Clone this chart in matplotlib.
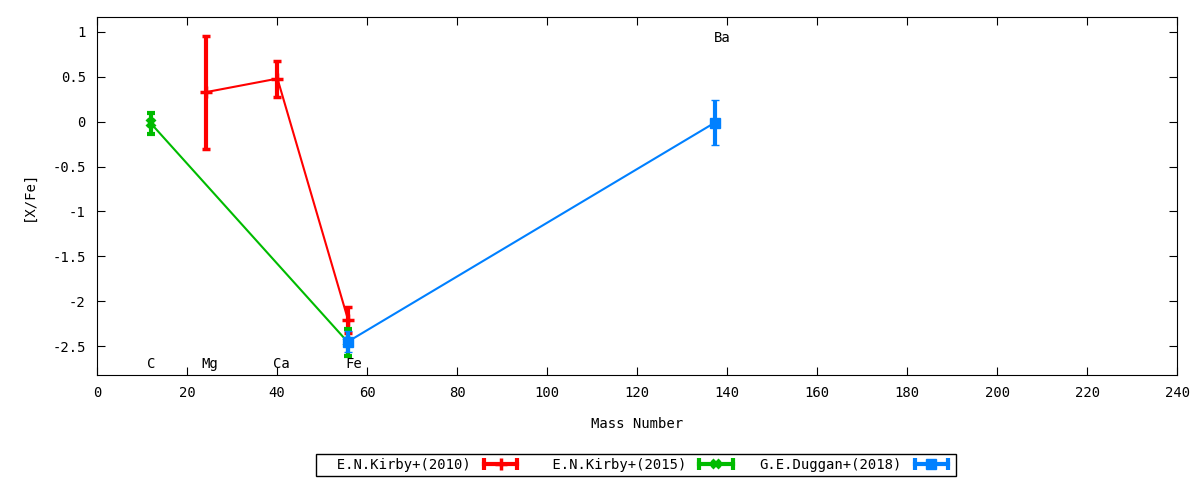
import numpy as np
import matplotlib.pyplot as plt
from matplotlib.ticker import FuncFormatter
from matplotlib.lines import Line2D
from matplotlib.legend_handler import HandlerLine2D

plt.rcParams['font.family'] = ['DejaVu Sans Mono']
plt.rcParams['font.size'] = 10

# E.N.Kirby+(2010)
k10_mass = [24.3, 40.1, 55.8]
k10_val = [0.33, 0.48, -2.21]
k10_err = [0.63, 0.20, 0.15]

# E.N.Kirby+(2015)
k15_mass = [12.0, 55.8]
k15_val = [-0.02, -2.46]
k15_err = [0.12, 0.15]

# G.E.Duggan+(2018)
d18_mass = [55.8, 137.3]
d18_val = [-2.45, -0.01]
d18_err = [0.12, 0.25]

elem_names = ["C", "Mg", "Ca", "Fe", "Ba"]
elem_x = [12.0, 25.0, 41.0, 57.0, 139.0]
elem_y = [-2.7, -2.7, -2.7, -2.7, 0.93]

fig = plt.figure(figsize=(12, 4.8), dpi=100)
ax = fig.add_axes([0.0808, 0.21875, 0.9002, 0.7459])

series = [
    (k10_mass, k10_val, k10_err, "#ff0000", "+", 9, 2.5, "  E.N.Kirby+(2010)"),
    (k15_mass, k15_val, k15_err, "#00bb00", "x", 6, 3, " E.N.Kirby+(2015)"),
    (d18_mass, d18_val, d18_err, "#0080ff", "s", 7, 1, "G.E.Duggan+(2018)"),
]

handles, labels, hmap = [], [], {}
for mass, val, err, c, mk, ms, mew, lab in series:
    ax.errorbar(mass, val, yerr=err, color=c, lw=1.5, elinewidth=3,
                capsize=3, capthick=3, marker=mk, ms=ms, mew=mew)
    cap = Line2D([], [], color=c, lw=3, marker="|", ms=8, mew=3)
    pt = Line2D([], [], color=c, ls="", marker=mk, ms=ms, mew=mew)
    hmap[cap] = HandlerLine2D(numpoints=2)
    hmap[pt] = HandlerLine2D(numpoints=1)
    handles.append((cap, pt))
    labels.append(lab)

for name, x, y in zip(elem_names, elem_x, elem_y):
    ax.text(x, y, name, ha="center", va="center")

ax.set_xlim(0, 240)
ax.set_ylim(-2.823, 1.167)
ax.set_xticks(np.arange(0, 241, 20))
ax.set_yticks(np.arange(-2.5, 1.01, 0.5))
ax.yaxis.set_major_formatter(FuncFormatter(lambda v, p: f"{v:g}"))
ax.tick_params(direction="in", top=True, right=True, length=6, pad=8)
ax.set_xlabel("Mass Number", labelpad=12)
ax.set_ylabel("[X/Fe]", labelpad=12)

leg = fig.legend(handles, labels, handler_map=hmap, loc="center",
                 bbox_to_anchor=(0.53, 0.031), ncol=3, markerfirst=False,
                 frameon=True, fancybox=False, edgecolor="black", framealpha=1,
                 handlelength=3.0, columnspacing=1.6, borderpad=0.3,
                 handletextpad=0.65, borderaxespad=0)
leg.get_frame().set_linewidth(1)

fig.savefig("out.png", dpi=100)
